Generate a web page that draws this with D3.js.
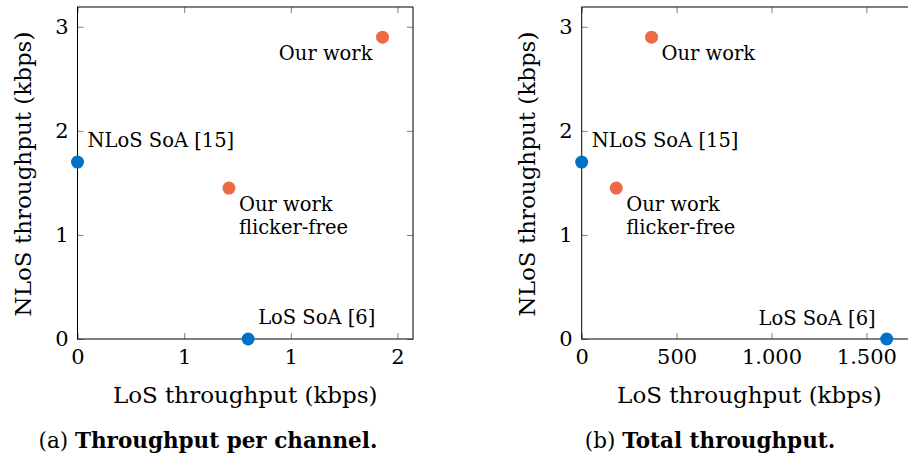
<!DOCTYPE html>
<html>
<head>
<meta charset="utf-8">
<script src="https://cdn.jsdelivr.net/npm/d3@7"></script>
<style>
  body { margin: 0; background: #fff; }
  text { font-family: "DejaVu Serif", serif; fill: #000; }
</style>
</head>
<body>
<svg id="fig" width="908" height="464"></svg>
<script>
// Systems compared, with their NLoS and LoS throughput (kbps)
const names = ["NLoS SoA [15]", "LoS SoA [6]", "Our work\nflicker-free", "Our work"];
const groups = ["soa", "soa", "ours", "ours"];
const nlosThroughput = [1.7, 0, 1.45, 2.9];
const losPerChannel = [0, 0.8, 0.71, 1.43];
const losTotal = [0, 1607, 182, 368];

// Tick values and their printed labels
const yTicks = [0, 1, 2, 3];
const xTicksA = [0, 0.5, 1, 1.5];
const xTickLabelsA = ["0", "1", "1", "2"];
const xTicksB = [0, 500, 1000, 1500];
const xTickLabelsB = ["0", "500", "1.000", "1.500"];

// Captions and axis titles
const captionTags = ["(a)", "(b)"];
const captionTitles = ["Throughput per channel.", "Total throughput."];
const xTitle = "LoS throughput (kbps)";
const yTitle = "NLoS throughput (kbps)";

const colors = { soa: "#0072C5", ours: "#EE6A47" };

const svg = d3.select("#fig");
svg.append("rect").attr("width", 908).attr("height", 464).attr("fill", "#fff");

const panels = [
  { left: 77.5, los: losPerChannel, xTicks: xTicksA, xLabels: xTickLabelsA,
    place: ["ne", "ne", "se", "sw"], captionX: 208 },
  { left: 581.7, los: losTotal, xTicks: xTicksB, xLabels: xTickLabelsB,
    place: ["ne", "nw", "se", "se"], captionX: 710 }
];

const plotTop = 7, plotW = 335.5, plotH = 332;

panels.forEach((p, i) => {
  const x = d3.scaleLinear()
    .domain([0, d3.max(p.los) * 1.1])
    .range([p.left, p.left + plotW]);
  const y = d3.scaleLinear()
    .domain([0, d3.max(nlosThroughput) * 1.1])
    .range([plotTop + plotH, plotTop]);

  const g = svg.append("g");
  const tickStyle = sel => {
    sel.select(".domain").remove();
    sel.selectAll(".tick line").attr("stroke", "#808080").attr("stroke-width", 1);
  };

  // bottom axis with labels, ticks pointing inward
  g.append("g")
    .attr("transform", `translate(0,${plotTop + plotH})`)
    .call(d3.axisBottom(x).tickValues(p.xTicks)
      .tickFormat((d, k) => p.xLabels[k])
      .tickSize(-6).tickSizeOuter(0).tickPadding(10))
    .call(tickStyle)
    .selectAll("text").attr("font-size", 21).attr("font-family", "DejaVu Serif");

  // top axis, ticks only
  g.append("g")
    .attr("transform", `translate(0,${plotTop})`)
    .call(d3.axisTop(x).tickValues(p.xTicks).tickFormat("")
      .tickSize(-6).tickSizeOuter(0))
    .call(tickStyle);

  // left axis with labels
  g.append("g")
    .attr("transform", `translate(${p.left},0)`)
    .call(d3.axisLeft(y).tickValues(yTicks).tickFormat(d3.format("d"))
      .tickSize(-6).tickSizeOuter(0).tickPadding(9))
    .call(tickStyle)
    .selectAll("text").attr("font-size", 21).attr("font-family", "DejaVu Serif");

  // right axis, ticks only
  g.append("g")
    .attr("transform", `translate(${p.left + plotW},0)`)
    .call(d3.axisRight(y).tickValues(yTicks).tickFormat("")
      .tickSize(-6).tickSizeOuter(0))
    .call(tickStyle);

  // frame
  g.append("rect")
    .attr("x", p.left).attr("y", plotTop)
    .attr("width", plotW).attr("height", plotH)
    .attr("fill", "none").attr("stroke", "#000").attr("stroke-width", 1);

  // axis titles
  g.append("text")
    .attr("x", p.left + plotW / 2).attr("y", 403)
    .attr("text-anchor", "middle").attr("font-size", 23)
    .text(xTitle);
  g.append("text")
    .attr("transform", `translate(${p.left - 47},${plotTop + plotH / 2 + 1}) rotate(-90)`)
    .attr("text-anchor", "middle").attr("font-size", 23)
    .text(yTitle);

  // markers
  g.selectAll("circle.pt")
    .data(names.map((n, k) => k))
    .join("circle")
    .attr("class", "pt")
    .attr("cx", k => x(p.los[k]))
    .attr("cy", k => y(nlosThroughput[k]))
    .attr("r", 6.5)
    .attr("fill", k => colors[groups[k]]);

  // point annotations
  const offsets = {
    ne: { dx: 10, dy: -15, anchor: "start" },
    se: { dx: 10, dy: 23, anchor: "start" },
    sw: { dx: -10, dy: 23, anchor: "end" },
    nw: { dx: -11, dy: -14, anchor: "end" }
  };
  names.forEach((n, k) => {
    const o = offsets[p.place[k]];
    const px = x(p.los[k]) + o.dx;
    const py = y(nlosThroughput[k]) + o.dy;
    const t = g.append("text")
      .attr("font-size", 19.5)
      .attr("text-anchor", o.anchor);
    n.split("\n").forEach((line, j) => {
      t.append("tspan").attr("x", px).attr("y", py + j * 23).text(line);
    });
  });

  // subfigure caption
  const cap = svg.append("text")
    .attr("x", p.captionX).attr("y", 448)
    .attr("text-anchor", "middle").attr("font-size", 21.5);
  cap.append("tspan").text(captionTags[i] + " ");
  cap.append("tspan").attr("font-weight", "bold").text(captionTitles[i]);
});
</script>
</body>
</html>
